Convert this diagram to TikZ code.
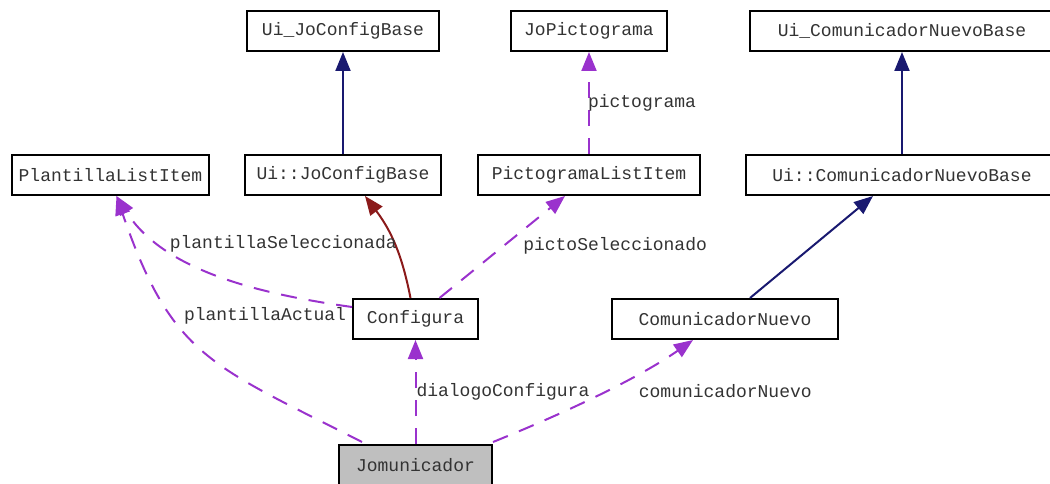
\documentclass[tikz,border=0pt]{standalone}
\usepackage{fontspec}
\setmonofont{Liberation Mono}
\usetikzlibrary{arrows.meta, positioning}
\definecolor{inhblue}{HTML}{191970}
\definecolor{usered}{HTML}{8B1A1A}
\definecolor{memberpurple}{HTML}{9A32CD}
\definecolor{labelgray}{HTML}{333333}
\definecolor{boxgray}{HTML}{BFBFBF}

\begin{document}
\begin{tikzpicture}[x=1pt,y=1pt,node distance=144pt,
    class/.style={draw,line width=2pt,minimum height=40pt,inner sep=0pt,
      font=\ttfamily\fontsize{18}{20}\selectfont,text=labelgray},
    tip/.style={-{Triangle[length=19pt,width=15pt]}},
    inherit/.style={tip,color=inhblue,line width=2pt},
    uses/.style={tip,color=usered,line width=2pt},
    member/.style={tip,color=memberpurple,line width=2pt,dash pattern=on 16pt off 12pt},
    lbl/.style={font=\ttfamily\fontsize{18}{20}\selectfont,text=labelgray,inner sep=0pt,anchor=west}]
  \useasboundingbox (0,0) rectangle (1050,-484);
% define the classes
  \node[class,minimum width=192pt]	(ujcb)	at (343,-31)	{Ui\_JoConfigBase};
  \node[class,minimum width=156pt]	(jopic)	at (589,-31)	{JoPictograma};
  \node[class,minimum width=304pt]	(ucnb)	at (902,-31)	{Ui\_ComunicadorNuevoBase};
  \node[class,minimum width=196pt]	(uijcb)	[below of=ujcb]	{Ui::JoConfigBase};
  \node[class,minimum width=222pt]	(pictoitem)	[below of=jopic]	{PictogramaListItem};
  \node[class,minimum width=312pt]	(uicnb)	[below of=ucnb]	{Ui::ComunicadorNuevoBase};
  \node[class,minimum width=197pt]	(plantilla)	at (110.5,-175)	{PlantillaListItem};
  \node[class,minimum width=125pt]	(configura)	at (415.5,-319)	{Configura};
  \node[class,minimum width=226pt]	(comunicador)	at (725,-319)	{ComunicadorNuevo};
  \node[class,fill=boxgray,minimum width=153pt]	(jomunicador)	[below of=configura,yshift=-2pt]	{Jomunicador};

% define the links
  \path[inherit] (uijcb) edge (ujcb)
        (uicnb) edge (ucnb)
        ([xshift=25pt]comunicador.north) edge ([xshift=-29pt]uicnb.south);
  \path[uses] ([xshift=-5pt]configura.north) edge [bend right=13] ([xshift=22pt]uijcb.south);
  \path[member] (pictoitem) edge node[lbl,pos=.5,xshift=-2pt] {pictograma} (jopic)
        ([xshift=24pt]configura.north) edge node[lbl,pos=.5,xshift=20pt,yshift=1pt] {pictoSeleccionado} ([xshift=-24pt]pictoitem.south)
        ([yshift=12pt]configura.west) edge [out=172,in=-58,looseness=.88] node[lbl,pos=.75,xshift=8pt] {plantillaSeleccionada} ([xshift=6pt]plantilla.south)
        ([xshift=-53.5pt,yshift=2pt]jomunicador.north) edge [out=153,in=-71,looseness=1.25] node[lbl,pos=.65,xshift=9pt,yshift=2pt] {plantillaActual} ([xshift=6pt]plantilla.south)
        (jomunicador) edge node[lbl,pos=.5] {dialogoConfigura} (configura)
        ([yshift=2pt]jomunicador.north east) edge [out=22,in=215,looseness=.8] node[lbl,pos=.5,xshift=42pt,yshift=5pt] {comunicadorNuevo} ([xshift=-32pt]comunicador.south);
\end{tikzpicture}
\end{document}
